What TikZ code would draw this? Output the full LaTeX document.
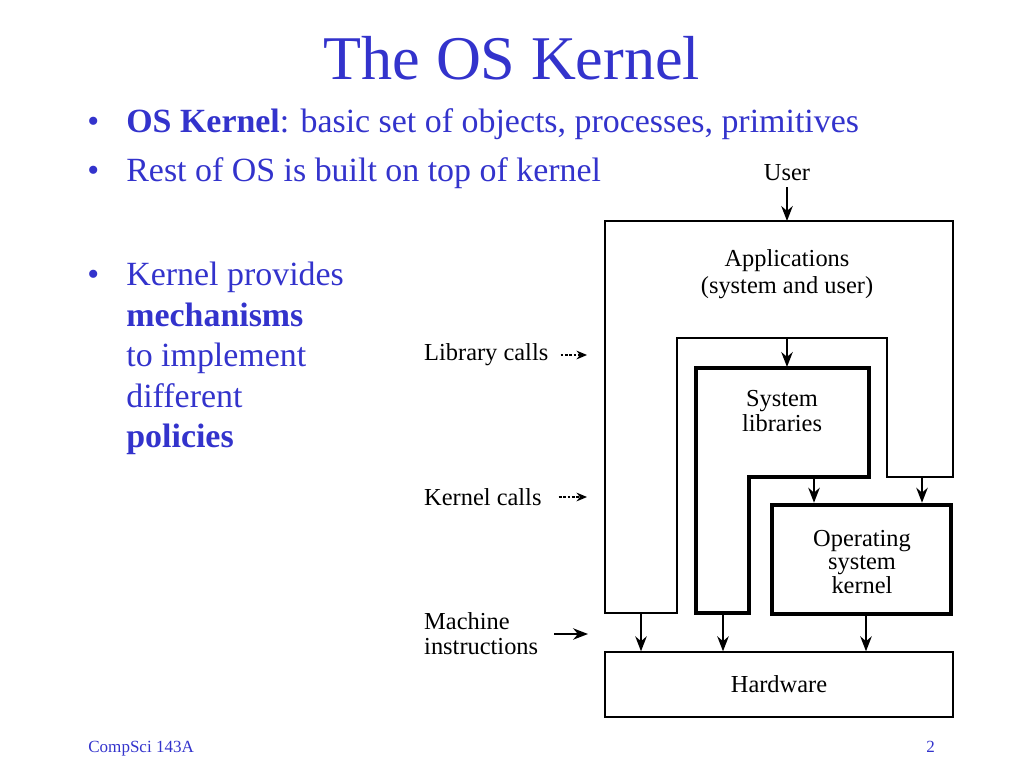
\documentclass[tikz,border=0pt]{standalone}
\usepackage{fontspec}
\setmainfont{Liberation Serif}
\usetikzlibrary{arrows.meta}
\usetikzlibrary{positioning}
\definecolor{slideblue}{RGB}{51,51,204}
\tikzstyle{slidetext}=[text=slideblue, inner sep=0pt, anchor=base west]
\tikzstyle{figtext}=[text=black, align=center, font=\fontsize{13.9}{14.6}\selectfont]

\begin{document}
\begin{tikzpicture}[x=0.02cm, y=-0.02cm,
 thinbox/.style={draw=black, line width=0.8pt},
 thickbox/.style={draw=black, line width=2.6pt},
 flow/.style={-{Stealth[length=8.5pt, width=6.5pt]}, line width=1.3pt},
 callflow/.style={-{Stealth[length=6pt, width=5pt]}, line width=0.7pt, dash pattern=on 1.6pt off 0.9pt},
 ]
 \useasboundingbox (0,0) rectangle (1024,768);

 %Slide text
 \node[text=slideblue, font=\fontsize{35.4}{40}\selectfont, anchor=base] (title) at (512,79) {The OS Kernel};
 \node[slidetext, font=\fontsize{19.3}{23}\selectfont] (bulA) at (87,132) {•};
 \node[slidetext, font=\fontsize{19.3}{23}\selectfont] (lineA) at (126,132) {\textbf{OS Kernel}: basic set of objects, processes, primitives};
 \node[slidetext, font=\fontsize{19.3}{23}\selectfont] (bulB) at (87,181) {•};
 \node[slidetext, font=\fontsize{19.3}{23}\selectfont] (lineB) at (126,181) {Rest of OS is built on top of kernel};
 \node[slidetext, font=\fontsize{19.3}{23}\selectfont] (bulC) at (87,285) {•};
 \node[slidetext, font=\fontsize{19.3}{23}\selectfont] (lineC) at (126,285) {Kernel provides};
 \node[slidetext, font=\fontsize{19.3}{23}\selectfont] (lineD) at (126,326) {\textbf{mechanisms}};
 \node[slidetext, font=\fontsize{19.3}{23}\selectfont] (lineE) at (126,366) {to implement};
 \node[slidetext, font=\fontsize{19.3}{23}\selectfont] (lineF) at (126,407) {different};
 \node[slidetext, font=\fontsize{19.3}{23}\selectfont] (lineG) at (126,447) {\textbf{policies}};
 \node[slidetext, font=\fontsize{9.7}{12}\selectfont] (course) at (88,752) {CompSci 143A};
 \node[slidetext, font=\fontsize{9.7}{12}\selectfont] (pagenum) at (926,752) {2};

 %Layers
 \draw[thinbox] (605,221) -- (953,221) -- (953,477) -- (887,477) -- (887,338)
   -- (677,338) -- (677,613) -- (605,613) -- cycle;
 \draw[thickbox] (696,368) -- (869,368) -- (869,477) -- (749,477) -- (749,613)
   -- (696,613) -- cycle;
 \node[thickbox, minimum width=3.58cm, minimum height=2.18cm] (kernel) at (861.5,559.5) {};
 \node[thinbox, minimum width=6.96cm, minimum height=1.3cm] (hardware) at (779,684.5) {};

 %Nodes
 \node[figtext] (user) at (787,173) {User};
 \node[figtext, font=\fontsize{13.9}{15.3}\selectfont] (apps) at (787,274) {Applications\\(system and user)};
 \node[figtext] (syslib) at (782,411) {System\\libraries};
 \node[figtext, font=\fontsize{13.9}{13.6}\selectfont] (oskernel) at (862,562) {Operating\\system\\kernel};
 \node[figtext] (hwlabel) at (hardware) {Hardware};
 \node[figtext, anchor=west] (libcalls) at (418,355) {Library calls};
 \node[figtext, anchor=west] (kercalls) at (418,497) {Kernel calls};
 \node[figtext, anchor=west, align=left, font=\fontsize{13.9}{14.2}\selectfont] (machine) at (418,634) {Machine\\instructions};

 \coordinate (appstop) at (787,221);
 \coordinate (appsgap) at (787,338);
 \coordinate (sltop) at (787,367);
 \coordinate (slstep) at (814,477);
 \coordinate (appsstep) at (922,477);
 \coordinate (appsfoot) at (641,613);
 \coordinate (slfoot) at (723,614);
 \coordinate (kernfoot) at (866,614);
 \coordinate (libtip) at (587,355);
 \coordinate (kertip) at (587,497);
 \coordinate (machtip) at (588,634);

 %Lines
 \draw[flow] (user.south) -- (appstop);
 \draw[flow] (appsgap) -- (sltop);
 \draw[flow] (slstep) -- (slstep |- kernel.north);
 \draw[flow] (appsstep) -- (appsstep |- kernel.north);
 \draw[flow] (appsfoot) -- (appsfoot |- hardware.north);
 \draw[flow] (slfoot) -- (slfoot |- hardware.north);
 \draw[flow] (kernfoot) -- (kernfoot |- hardware.north);
 \draw[callflow] ([xshift=0.12cm]libcalls.east) -- (libtip);
 \draw[callflow] ([xshift=0.22cm]kercalls.east) -- (kertip);
 \draw[flow, line width=0.8pt] ([xshift=0.2cm]machine.east) -- (machtip);
\end{tikzpicture}
\end{document}
